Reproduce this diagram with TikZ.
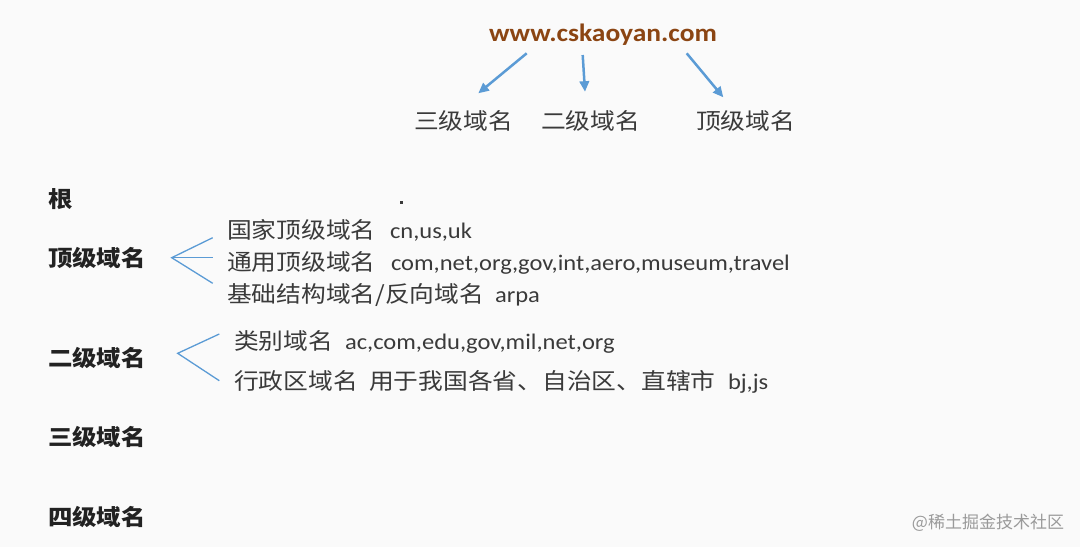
\documentclass[tikz,border=0pt]{standalone}
\usepackage{fontspec}
\setmainfont{Carlito}[FakeStretch=1.1]
\newfontfamily\cjk{Noto Sans CJK SC}[FakeStretch=1.1]
\newfontfamily\wmfont{Noto Sans CJK SC}
\usetikzlibrary{arrows.meta}
\definecolor{bgc}{HTML}{FAFAFA}
\definecolor{arrowblue}{HTML}{5B9BD5}
\definecolor{titlebrown}{HTML}{8B4513}
\definecolor{txt}{HTML}{3A3A3A}
\definecolor{lbl}{HTML}{222222}
\definecolor{wm}{HTML}{9A9A9A}
\begin{document}
\begin{tikzpicture}[x=1pt,y=-1pt,
  every node/.style={inner sep=0pt,outer sep=0pt},
  cjktext/.style={anchor=base west,text=txt,font=\cjk\fontsize{22.5}{26}\selectfont},
  lattext/.style={anchor=base west,text=txt,font=\fontsize{22.3}{26}\selectfont},
  lvl/.style={anchor=base west,text=lbl,font=\cjk\bfseries\fontsize{22.2}{26}\selectfont},
  fork/.style={draw=arrowblue,line width=1.3pt},
  pointer/.style={draw=arrowblue,line width=2.5pt,-{Triangle[length=10.5pt,width=9.5pt]}}]
\fill[bgc] (0,0) rectangle (1080,547);
\useasboundingbox (0,0) rectangle (1080,547);
% title
\node[anchor=base,text=titlebrown,font=\bfseries\fontsize{25}{30}\selectfont] (title) at (603,41.7) {www.cskaoyan.com};
\node[cjktext] (l3) at (414,129.5) {三级域名};
\node[cjktext] (l2) at (541,129.5) {二级域名};
\node[cjktext] (ltop) at (696,129.5) {顶级域名};
\coordinate (t3) at (526.7,53.3);
\coordinate (h3) at (478.3,93.3);
\coordinate (t2) at (582.7,55);
\coordinate (h2) at (585,91.7);
\coordinate (tt) at (686.7,53.3);
\coordinate (ht) at (723.3,97.3);
\draw[pointer] (t3) -- (h3);
\draw[pointer] (t2) -- (h2);
\draw[pointer] (tt) -- (ht);
% levels
\node[lvl] (root) at (48,207) {根};
\node[lvl] (top) at (48,266.5) {顶级域名};
\node[lvl] (second) at (48,366.5) {二级域名};
\node[lvl] (third) at (48,445.5) {三级域名};
\node[lvl] (fourth) at (48,525) {四级域名};
\fill[txt] (400.2,200.8) rectangle (403.2,203.8);
% top-level children
\node[cjktext] (c1) at (227,238.8) {国家顶级域名};
\node[lattext] (c1x) at (390,238.8) {cn,us,uk};
\node[cjktext] (c2) at (227,270.8) {通用顶级域名};
\node[lattext] (c2x) at (391,270.8) {com,net,org,gov,int,aero,museum,travel};
\node[cjktext] (c3) at (227,302.8) {基础结构域名/反向域名};
\node[lattext] (c3x) at (495,302.8) {arpa};
\coordinate (v1) at (171.7,257.7);
\coordinate (v1a) at (212.7,237.7);
\coordinate (v1b) at (212.7,257.7);
\coordinate (v1c) at (212.7,283.3);
\draw[fork] (v1a) -- (v1) -- (v1c);
\draw[fork] (v1) -- (v1b);
% second-level children
\node[cjktext] (s1) at (234,349.5) {类别域名};
\node[lattext] (s1x) at (345,349.5) {ac,com,edu,gov,mil,net,org};
\node[cjktext] (s2) at (234,389) {行政区域名};
\node[cjktext] (s2b) at (369,389) {用于我国各省、自治区、直辖市};
\node[lattext] (s2x) at (728,389) {bj,js};
\coordinate (v2) at (177.7,353.3);
\coordinate (v2a) at (219.3,334);
\coordinate (v2c) at (219.3,380.7);
\draw[fork] (v2a) -- (v2) -- (v2c);
% watermark
\node[anchor=base east,text=wm,font=\wmfont\fontsize{17}{20}\selectfont] (wmk) at (1064,528) {@稀土掘金技术社区};
\end{tikzpicture}
\end{document}
